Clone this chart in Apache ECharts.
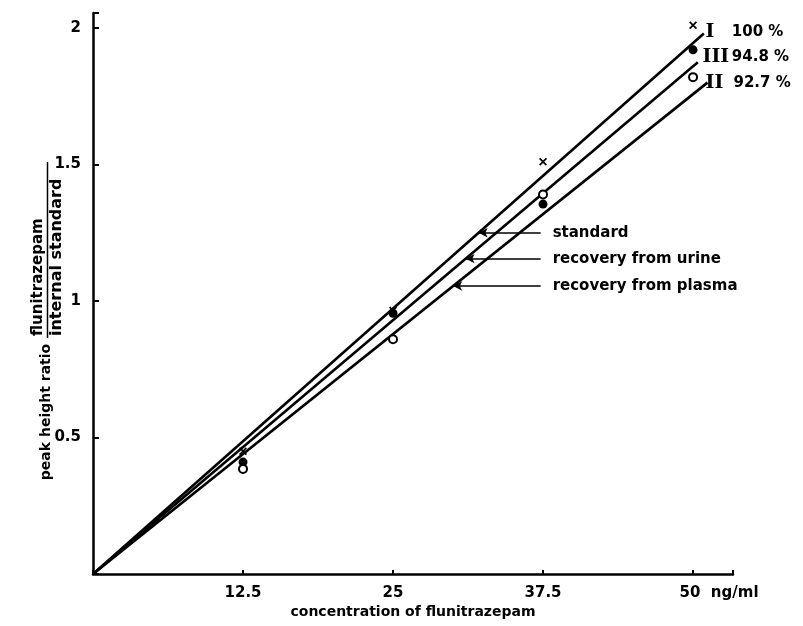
<!DOCTYPE html>
<html>
<head>
<meta charset="utf-8">
<script src="https://cdn.jsdelivr.net/npm/echarts@6/dist/echarts.min.js"></script>
<style>
html,body{margin:0;padding:0;background:#fff;}
#chart{width:803px;height:626px;}
</style>
</head>
<body>
<div id="chart"></div>
<script>
// ---- data ----
const xTickValues = [12.5, 25, 37.5, 50];
const yTickValues = [0.5, 1, 1.5, 2];
const xUnit = 'ng/ml';
const xTitle = 'concentration of flunitrazepam';
const yTitle = 'peak height ratio';
const yTitleNum = 'flunitrazepam';
const yTitleDen = 'internal standard';

const concentrations = [12.5, 25, 37.5, 50];
const standardValues = [0.45, 0.965, 1.51, 2.01];   // x markers
const urineValues    = [0.41, 0.955, 1.355, 1.92];  // filled dots
const plasmaValues   = [0.385, 0.86, 1.39, 1.82];   // open circles

const lineNames   = ['standard', 'recovery from urine', 'recovery from plasma'];
const lineRoman   = ['I', 'III', 'II'];
const linePercent = ['100 %', '94.8 %', '92.7 %'];
const lineEndX    = [50.9, 50.4, 51.2];
const lineEndY    = [1.98, 1.875, 1.80];
const arrowLevels = [1.25, 1.155, 1.055];  // ratio at which each annotation arrow meets its line
const arrowTailX  = 37.3;

// ---- chart ----
const SANS = '"DejaVu Sans", sans-serif';
const SERIF = '"DejaVu Serif", "Liberation Serif", serif';
const chart = echarts.init(document.getElementById('chart'), null, {renderer: 'canvas'});

const endLabelCfg = [
  {distance: 0, rw: 12, pad: 16, off: [0, -1]},
  {distance: 10, rw: 16, pad: 8, off: [0, -5]},
  {distance: 3, rw: 8, pad: 15, off: [0, 0]}
];

const lineSeries = lineNames.map((name, i) => {
  const slope = lineEndY[i] / lineEndX[i];
  const tipX = arrowLevels[i] / slope;
  const c = endLabelCfg[i];
  return {
    type: 'line',
    name: name,
    data: [[0, 0], [lineEndX[i], lineEndY[i]]],
    symbol: 'none',
    lineStyle: {color: '#000', width: 2.6},
    z: 2,
    endLabel: {
      show: true,
      distance: c.distance,
      offset: c.off,
      formatter: () => '{r|' + lineRoman[i] + '}{n|' + linePercent[i] + '}',
      rich: {
        r: {fontFamily: SERIF, fontSize: 19, fontWeight: 'bold', color: '#000', width: c.rw, align: 'center'},
        n: {fontFamily: SANS, fontSize: 15, fontWeight: 'bold', color: '#000', padding: [0, 0, 0, c.pad]}
      }
    },
    markLine: {
      silent: true,
      animation: false,
      symbol: ['arrow', 'none'],
      symbolSize: [7, 9],
      lineStyle: {color: '#000', width: 1.6, type: 'solid'},
      label: {
        show: true,
        position: 'end',
        distance: 12,
        formatter: name,
        fontFamily: SANS,
        fontSize: 15,
        fontWeight: 'bold',
        color: '#000'
      },
      data: [[{coord: [tipX, arrowLevels[i]]}, {coord: [arrowTailX, arrowLevels[i]]}]]
    }
  };
});

const xPath = 'path://M0,1.5L1.5,0L5,3.5L8.5,0L10,1.5L6.5,5L10,8.5L8.5,10L5,6.5L1.5,10L0,8.5L3.5,5Z';

const option = {
  animation: false,
  grid: {left: 93, right: 70, top: 13, bottom: 52},
  xAxis: [{
    type: 'value', min: 0, max: 53.33, interval: 12.5,
    axisLine: {lineStyle: {color: '#000', width: 2.5}},
    axisTick: {inside: true, length: 4, lineStyle: {color: '#000', width: 2}},
    splitLine: {show: false},
    axisLabel: {
      margin: 12,
      fontFamily: SANS, fontSize: 15, fontWeight: 'bold', color: '#000',
      formatter: v => {
        if (!xTickValues.includes(v)) return '';
        if (v === xTickValues[xTickValues.length - 1]) return '{e|' + v + '  ' + xUnit + '}';
        return String(v);
      },
      rich: {e: {fontFamily: SANS, fontSize: 15, fontWeight: 'bold', color: '#000', padding: [0, 0, 0, 52]}}
    }
  }, {
    type: 'value', min: 0, max: 53.33, position: 'bottom',
    axisLine: {show: false}, axisTick: {show: false}, axisLabel: {show: false}, splitLine: {show: false},
    name: xTitle, nameLocation: 'middle', nameGap: 31,
    nameTextStyle: {fontFamily: SANS, fontSize: 14, fontWeight: 'bold', color: '#000'}
  }],
  yAxis: {
    type: 'value', min: 0, max: 2.055, interval: 0.5,
    axisLine: {lineStyle: {color: '#000', width: 2.5}},
    axisTick: {inside: true, length: 6, lineStyle: {color: '#000', width: 2}},
    splitLine: {show: false},
    axisLabel: {
      margin: 12,
      fontFamily: SANS, fontSize: 15, fontWeight: 'bold', color: '#000',
      formatter: v => yTickValues.includes(v) ? String(v) : ''
    }
  },
  graphic: [
    {type: 'text', x: 46, y: 412, rotation: Math.PI / 2,
     style: {text: yTitle, font: 'bold 14px "DejaVu Sans"', fill: '#000', align: 'center', verticalAlign: 'middle'}},
    {type: 'text', x: 38, y: 336, rotation: Math.PI / 2,
     style: {text: yTitleNum, font: 'bold 15px "DejaVu Sans"', fill: '#000', align: 'left', verticalAlign: 'middle'}},
    {type: 'line', shape: {x1: 47.5, y1: 162, x2: 47.5, y2: 338}, style: {stroke: '#000', lineWidth: 1.5}},
    {type: 'text', x: 57, y: 336, rotation: Math.PI / 2,
     style: {text: yTitleDen, font: 'bold 16px "DejaVu Sans"', fill: '#000', align: 'left', verticalAlign: 'middle'}}
  ],
  series: lineSeries.concat([
    {
      type: 'scatter', name: 'standard points',
      data: concentrations.map((c, i) => [c, standardValues[i]]),
      symbol: xPath, symbolSize: 8,
      itemStyle: {color: '#000', opacity: 1}, z: 5
    },
    {
      type: 'scatter', name: 'urine points',
      data: concentrations.map((c, i) => [c, urineValues[i]]),
      symbol: 'circle', symbolSize: 9,
      itemStyle: {color: '#000', opacity: 1}, z: 5
    },
    {
      type: 'scatter', name: 'plasma points',
      data: concentrations.map((c, i) => [c, plasmaValues[i]]),
      symbol: 'emptyCircle', symbolSize: 8,
      itemStyle: {color: '#000', borderWidth: 2, opacity: 1}, z: 5
    }
  ])
};
chart.setOption(option);
</script>
</body>
</html>
